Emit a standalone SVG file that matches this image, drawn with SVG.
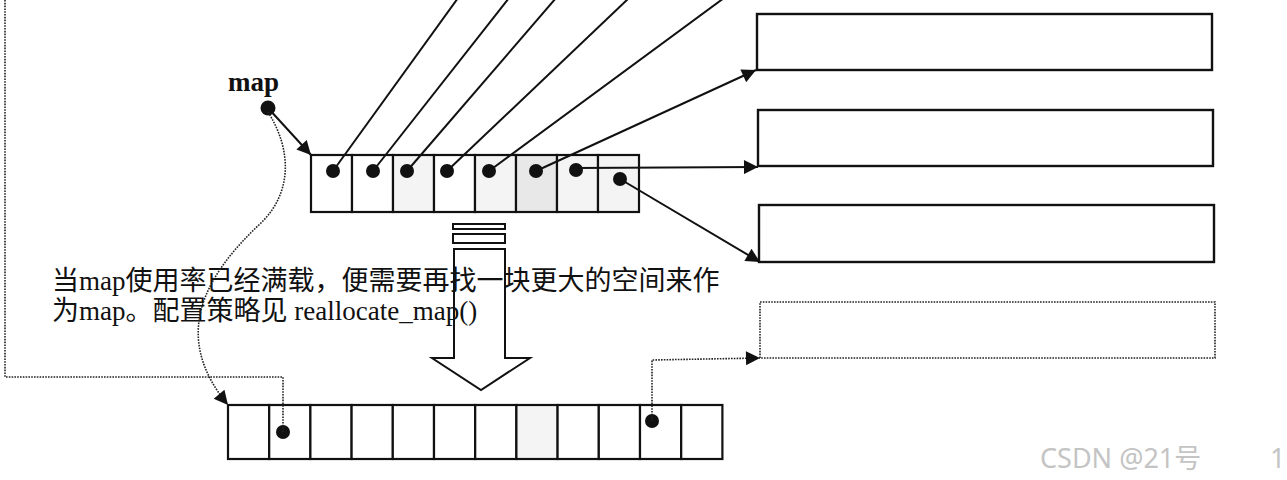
<svg xmlns="http://www.w3.org/2000/svg" width="1287" height="480" viewBox="0 0 1287 480">
<style>
.cell{fill:#fff;stroke:#111;stroke-width:2.2}
.s1{fill:#f4f4f4}
.s2{fill:#e8e8e8}
.box{fill:#fff;stroke:#111;stroke-width:2.4}
.dbox{fill:none;stroke:#222;stroke-width:1.6;stroke-dasharray:1.6 1.2}
.ln{fill:none;stroke:#111;stroke-width:2}
.dl{fill:none;stroke:#222;stroke-width:1.6;stroke-dasharray:1.6 1.2}
.dot{fill:#111}
.note{font-family:"Liberation Serif","Noto Sans CJK SC",serif;font-size:27px;fill:#111}
.lbl{font-family:"Liberation Serif",serif;font-size:27px;font-weight:bold;fill:#111}
.wm{font-family:"Noto Sans","Noto Sans CJK SC",sans-serif;font-size:27px;fill:#c4c4c4}
</style>
<defs>
<marker id="ah" viewBox="0 0 10 10" refX="10" refY="5" markerWidth="17" markerHeight="14" markerUnits="userSpaceOnUse" orient="auto"><path d="M0,0 L10,5 L0,10 z" fill="#111"/></marker>
</defs>
<rect width="1287" height="480" fill="#fff"/>

<g id="buffer-1"><rect class="box" x="757" y="14" width="455" height="56"/></g>
<g id="buffer-2"><rect class="box" x="758" y="110" width="455" height="56"/></g>
<g id="buffer-3"><rect class="box" x="759" y="205" width="455" height="57"/></g>
<g id="buffer-new"><rect class="dbox" x="760" y="302" width="455" height="56"/></g>

<g id="map-old">
<rect class="cell" x="311" y="155" width="41" height="57"/>
<rect class="cell" x="352" y="155" width="41" height="57"/>
<rect class="cell s1" x="393" y="155" width="41" height="57"/>
<rect class="cell" x="434" y="155" width="41" height="57"/>
<rect class="cell s1" x="475" y="155" width="41" height="57"/>
<rect class="cell s2" x="516" y="155" width="41" height="57"/>
<rect class="cell s1" x="557" y="155" width="41" height="57"/>
<rect class="cell s1" x="598" y="155" width="41" height="57"/>
<circle class="dot" cx="333" cy="171" r="7"/>
<circle class="dot" cx="373" cy="171" r="7"/>
<circle class="dot" cx="407" cy="171" r="7"/>
<circle class="dot" cx="447" cy="171" r="7"/>
<circle class="dot" cx="489" cy="171" r="7"/>
<circle class="dot" cx="536" cy="171" r="7"/>
<circle class="dot" cx="576" cy="170" r="7"/>
<circle class="dot" cx="620" cy="179" r="7"/>
</g>

<g id="map-new">
<rect class="cell" x="228" y="405" width="41.2" height="54"/>
<rect class="cell" x="269.2" y="405" width="41.2" height="54"/>
<rect class="cell" x="310.4" y="405" width="41.2" height="54"/>
<rect class="cell" x="351.6" y="405" width="41.2" height="54"/>
<rect class="cell" x="392.8" y="405" width="41.2" height="54"/>
<rect class="cell" x="434" y="405" width="41.2" height="54"/>
<rect class="cell" x="475.2" y="405" width="41.2" height="54"/>
<rect class="cell s1" x="516.4" y="405" width="41.2" height="54"/>
<rect class="cell" x="557.6" y="405" width="41.2" height="54"/>
<rect class="cell" x="598.8" y="405" width="41.2" height="54"/>
<rect class="cell" x="640" y="405" width="41.2" height="54"/>
<rect class="cell" x="681.2" y="405" width="41.2" height="54"/>
<circle class="dot" cx="283" cy="432" r="7"/>
<circle class="dot" cx="652" cy="421" r="7"/>
</g>

<g id="map-label">
<text class="lbl" x="228" y="91">map</text>
<circle class="dot" cx="268" cy="108" r="7.5"/>
</g>

<g id="note">
<text class="note" x="52" y="290">当map使用率已经满载，便需要再找一块更大的空间来作</text>
<text class="note" x="52" y="320">为map。配置策略见 reallocate_map()</text>
</g>

<g id="transform-arrow" fill="none" stroke="#111" stroke-width="2">
<rect x="453" y="224" width="52" height="5"/>
<rect x="453" y="234" width="52" height="9"/>
<path d="M454,249 L505,249 L505,358 L530,358 L481,390 L432,358 L454,358 Z"/>
</g>

<g id="connectors">
<path class="ln" d="M333,171 L458,-2"/>
<path class="ln" d="M373,171 L509,-2"/>
<path class="ln" d="M407,171 L556,-2"/>
<path class="ln" d="M447,171 L629,-2"/>
<path class="ln" d="M489,171 L724,-2"/>
<path class="ln" d="M536,171 L756,70" marker-end="url(#ah)"/>
<path class="ln" d="M576,168 L758,167" marker-end="url(#ah)"/>
<path class="ln" d="M620,179 L760,262" marker-end="url(#ah)"/>
<path class="ln" d="M268,108 L311,155" marker-end="url(#ah)"/>
<path class="dl" d="M268,112 C292,150 292,192 262,222 C205,275 170,335 228,405" marker-end="url(#ah)"/>
<path class="dl" d="M283,432 L283,377 L5,377 L5,-2"/>
<path class="dl" d="M652,421 L652,360 L760,358" marker-end="url(#ah)"/>
</g>

<g id="watermark">
<text class="wm" x="1040" y="468">CSDN @21号</text>
<text class="wm" x="1270" y="468">1</text>
</g>
</svg>
